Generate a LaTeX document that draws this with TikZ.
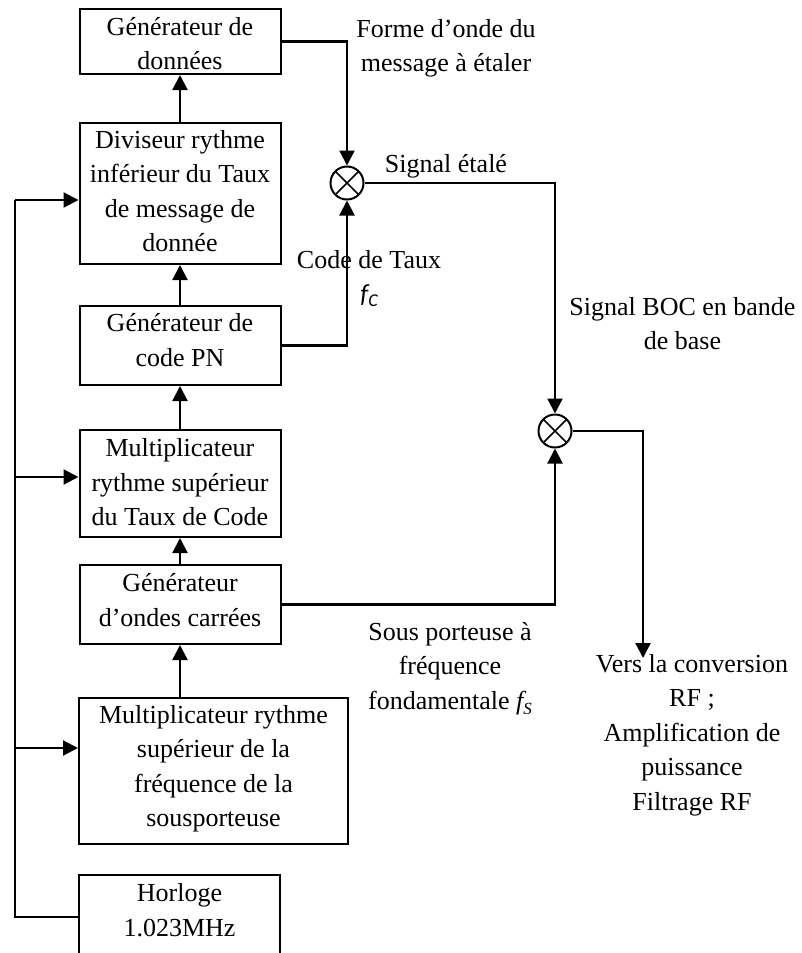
\documentclass[tikz,border=0pt]{standalone}
\usepackage{fontspec}
\setmainfont{Liberation Serif}
\newfontfamily\carlito{Carlito}
\usetikzlibrary{arrows.meta}
% struts: \sh sets the height of a first line, \sd the depth of a last line
\newcommand\sh[1]{\rule{0pt}{#1pt}}
\newcommand\sd[1]{\rule[-#1pt]{0pt}{#1pt}}
\newcommand\fcsym{{\carlito\itshape f\raisebox{-4pt}{\fontsize{18}{18}\selectfont C}}}
\newcommand\fssym{{\itshape f\raisebox{-5pt}{\fontsize{17}{17}\selectfont S}}}

\begin{document}
\begin{tikzpicture}[x=1pt,y=-1pt,
  txt/.style={font=\fontsize{26}{34.5}\selectfont, align=center},
  blk/.style={txt, draw, line width=2pt, inner sep=0pt, minimum width=201pt},
  lbl/.style={txt, inner sep=0pt, anchor=north},
  mixer/.style={circle, draw, line width=2pt, minimum size=33pt, inner sep=0pt,
    path picture={\draw[line width=1.6pt]
      (path picture bounding box.north west) -- (path picture bounding box.south east)
      (path picture bounding box.north east) -- (path picture bounding box.south west);}},
  wire/.style={line width=2.2pt},
  arr/.style={wire, -{Triangle[length=15pt,width=15pt]}}]

\useasboundingbox (0,0) rectangle (801,953);
\clip (0,0) rectangle (801,953);

% processing chain
\node[blk, minimum height=65pt]  (gen)   at (180,41.5)
  {\sh{24.75}Générateur de\\données\sd{3.25}};
\node[blk, minimum height=141pt] (div)   at (180,193.5)
  {\sh{20.5}Diviseur rythme\\inférieur du Taux\\de message de\\donnée\sd{7.5}};
\node[blk, minimum height=79pt]  (pn)    at (180,345.5)
  {\sh{18}Générateur de\\code PN\sd{11}};
\node[blk, minimum height=107pt] (mcode) at (180,483.5)
  {\sh{21.7}Multiplicateur\\rythme supérieur\\du Taux de Code\sd{6.3}};
\node[blk, minimum height=79pt]  (sqw)   at (180,604.5)
  {\sh{18.5}Générateur\\d’ondes carrées\sd{9.5}};
\node[blk, minimum width=269pt, minimum height=146pt] (sub) at (213.5,771)
  {\sh{18}Multiplicateur rythme\\supérieur de la\\fréquence de la\\sousporteuse\sd{10}};

% clock (box runs past the lower edge)
\node[txt, inner sep=0pt, minimum width=201pt, minimum height=77pt] (clk) at (179.5,913.5)
  {\sh{19.5}Horloge\\1.023MHz\sd{8.5}};
\draw[line width=2pt] ([yshift=-20pt]clk.south west) -- (clk.north west)
  -- (clk.north east) -- ([yshift=-20pt]clk.south east);

% mixers
\node[mixer] (mix1) at (347,183) {};
\node[mixer] (mix2) at (555,431) {};
\coordinate (rf) at (643,658);

% labels
\node[lbl] (lmsg)  at (446,17)    {\sh{20}Forme d’onde du\\message à étaler\sd{8}};
\node[lbl] (lspr)  at (446,152)   {\sh{20}Signal étalé\sd{8}};
\node[lbl] (lcode) at (369,248)   {\sh{20}Code de Taux\\\fcsym\sd{8}};
\node[lbl] (lboc)  at (682.5,295) {\sh{20}Signal BOC en bande\\de base\sd{8}};
\node[lbl] (lsub)  at (450,620)   {\sh{20}Sous porteuse à\\fréquence\\fondamentale \fssym\sd{8}};
\node[lbl] (lout)  at (692,652)   {\sh{20}Vers la conversion\\RF ;\\Amplification de\\puissance\\Filtrage RF\sd{8}};

% vertical chain
\draw[arr] (div.north) -- (gen.south);
\draw[arr] (pn.north) -- (div.south);
\draw[arr] (mcode.north) -- (pn.south);
\draw[arr] (sqw.north) -- (mcode.south);
\draw[arr] (sqw.south |- sub.north) -- (sqw.south);

% clock distribution bus
\coordinate (bt) at (15,200);
\coordinate (b2) at (15,477);
\coordinate (b3) at (15,748);
\coordinate (bb) at (15,917);
\draw[wire] (bt) -- (bb) -- (bb -| clk.west);
\draw[arr] (bt) -- (bt -| div.west);
\draw[arr] (b2) -- (b2 -| mcode.west);
\draw[arr] (b3) -- (b3 -| sub.west);

% signal path
\draw[arr] (gen.east) -| (mix1.north);
\draw[arr] (pn.east) -| (mix1.south);
\draw[arr] (mix1.east) -| (mix2.north);
\draw[arr] (sqw.east) -| (mix2.south);
\draw[arr] (mix2.east) -| (rf);
\end{tikzpicture}
\end{document}
